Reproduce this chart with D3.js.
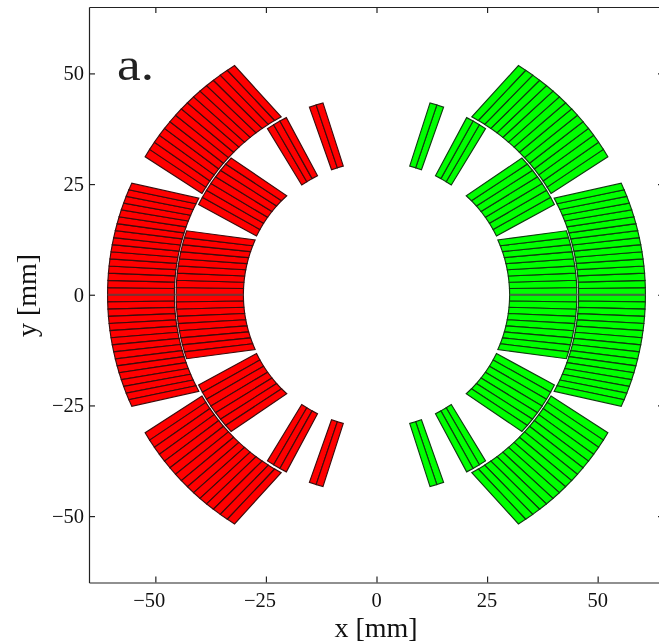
<!DOCTYPE html>
<html>
<head>
<meta charset="utf-8">
<script src="https://cdnjs.cloudflare.com/ajax/libs/d3/7.8.5/d3.min.js"></script>
<style>
html,body{margin:0;padding:0;background:#ffffff;overflow:hidden;}
svg{display:block;filter:blur(0.4px);}
text{font-family:"Liberation Serif",serif;fill:#111111;}
</style>
</head>
<body>
<div id="chart"></div>
<script>
//coil blocks of one quadrant, radii in mm and angles in degrees from the midplane
var block_names = ["outer-1","outer-2","inner-1","inner-2","inner-3","inner-4"];
var radius_in = [45.7,45.6,30.1,30.2,30.0,30.0];
var radius_out = [60.8,60.9,45.3,45.1,44.9,45.0];
var start_in = [0,30.1,0,26.1,55.7,70.2];
var start_out = [0,30.8,0,26.9,56.7,70.3];
var end_in = [28.5,61.8,24.3,47.8,63.6,75.5];
var end_out = [24.5,58.2,18.6,43.2,63.0,74.4];
var turns = [16,15,9,7,3,2];

var sides = ["left","right"];
var side_colors = ["#ff0000","#00ff00"];
var side_lines = ["#3c0c0c","#0f3c0f"];
var mid_colors = ["#7a3434","#3f6f3f"];
var tick_values = [-50,-25,0,25,50];
var x_domain = [-65,65];
var y_domain = [-65,65];

var width = 659, height = 643;

var x = d3.scaleLinear().domain(x_domain).range([89,664]);
var y = d3.scaleLinear().domain(y_domain).range([582.5,7]);

var svg = d3.select("#chart").append("svg").attr("width",width).attr("height",height);

function polar(r,deg){
	var a = deg*Math.PI/180;
	return [r*Math.cos(a), r*Math.sin(a)];
}

//edge k of a block: a straight side of a cable, running from the inner to the outer arc
function cable_edge(b,k){
	var n = turns[b];
	var ai = start_in[b] + (end_in[b]-start_in[b])*k/n;
	var ao = start_out[b] + (end_out[b]-start_out[b])*k/n;
	return [polar(radius_in[b],ai), polar(radius_out[b],ao)];
}

//one record per cable, for all four quadrants
var cables = [];
sides.forEach(function(side,s){
	[1,-1].forEach(function(sy){
		block_names.forEach(function(name,b){
			d3.range(turns[b]).forEach(function(k){
				var e0 = cable_edge(b,k);
				var e1 = cable_edge(b,k+1);
				cables.push({
					side:s,
					sx:s==0 ? -1 : 1,
					sy:sy,
					pts:[e0[0],e0[1],e1[1],e1[0]]
				});
			});
		});
	});
});

var line = d3.line();

svg.append("g").selectAll("path").data(cables).enter().append("path")
	.attr("d",function(d){
		return line(d.pts.map(function(p){return [x(d.sx*p[0]), y(d.sy*p[1])]})) + "Z";
	})
	.attr("fill",function(d){return side_colors[d.side]})
	.attr("stroke",function(d){return side_lines[d.side]})
	.attr("stroke-width",1.15)
	.attr("stroke-linejoin","miter");

//the midplane edge is drawn twice in the original, so it shows up heavier
var mid_blocks = block_names.map(function(n,i){return i}).filter(function(i){return start_in[i]==0});
var mid_lines = [];
[-1,1].forEach(function(sx){
	mid_blocks.forEach(function(b){
		mid_lines.push({sx:sx, r0:radius_in[b], r1:radius_out[b]});
	});
});
svg.append("g").selectAll("line").data(mid_lines).enter().append("line")
	.attr("x1",function(d){return x(d.sx*d.r0)})
	.attr("x2",function(d){return x(d.sx*d.r1)})
	.attr("y1",y(0)).attr("y2",y(0))
	.attr("stroke",function(d){return d.sx<0 ? mid_colors[0] : mid_colors[1]})
	.attr("stroke-width",1.9);

//axes on all four sides, ticks pointing inwards
var tick_len = 6;
function style_axis(g){
	g.selectAll("path,line").attr("stroke","#222222").attr("stroke-width",1.2);
	g.selectAll("text").remove();
}
svg.append("g").attr("transform","translate(0,"+y.range()[0]+")")
	.call(d3.axisBottom(x).tickValues(tick_values).tickSize(-tick_len).tickSizeOuter(0)).call(style_axis);
svg.append("g").attr("transform","translate(0,"+y.range()[1]+")")
	.call(d3.axisTop(x).tickValues(tick_values).tickSize(-tick_len).tickSizeOuter(0)).call(style_axis);
svg.append("g").attr("transform","translate("+x.range()[0]+",0)")
	.call(d3.axisLeft(y).tickValues(tick_values).tickSize(-tick_len).tickSizeOuter(0)).call(style_axis);
svg.append("g").attr("transform","translate("+x.range()[1]+",0)")
	.call(d3.axisRight(y).tickValues(tick_values).tickSize(-tick_len).tickSizeOuter(0)).call(style_axis);

function tick_label(v){
	return v<0 ? "\u2212"+Math.abs(v) : String(v);
}

//digits sit centred under the tick, the minus sign hangs out to the left
svg.append("g").selectAll("text").data(tick_values).enter().append("text")
	.attr("x",function(d){return x(d) - (d<0 ? 6 : 0)})
	.attr("y",607)
	.attr("text-anchor","middle")
	.style("font-size","20.5px")
	.text(tick_label);

svg.append("g").selectAll("text").data(tick_values).enter().append("text")
	.attr("x",84)
	.attr("y",function(d){return y(d)+7})
	.attr("text-anchor","end")
	.style("font-size","20.5px")
	.text(tick_label);

svg.append("text").attr("x",376).attr("y",637)
	.attr("text-anchor","middle").style("font-size","28px").text("x [mm]");

svg.append("text").attr("transform","translate(36,295.5) rotate(-90)")
	.attr("text-anchor","middle").style("font-size","28px").text("y [mm]");

//the panel letter is wider than Liberation, so stretch it a little
svg.append("text").attr("transform","translate(117,80) scale(1.16,1)")
	.style("font-size","46px").style("fill","#222222").text("a.");
</script>
</body>
</html>
